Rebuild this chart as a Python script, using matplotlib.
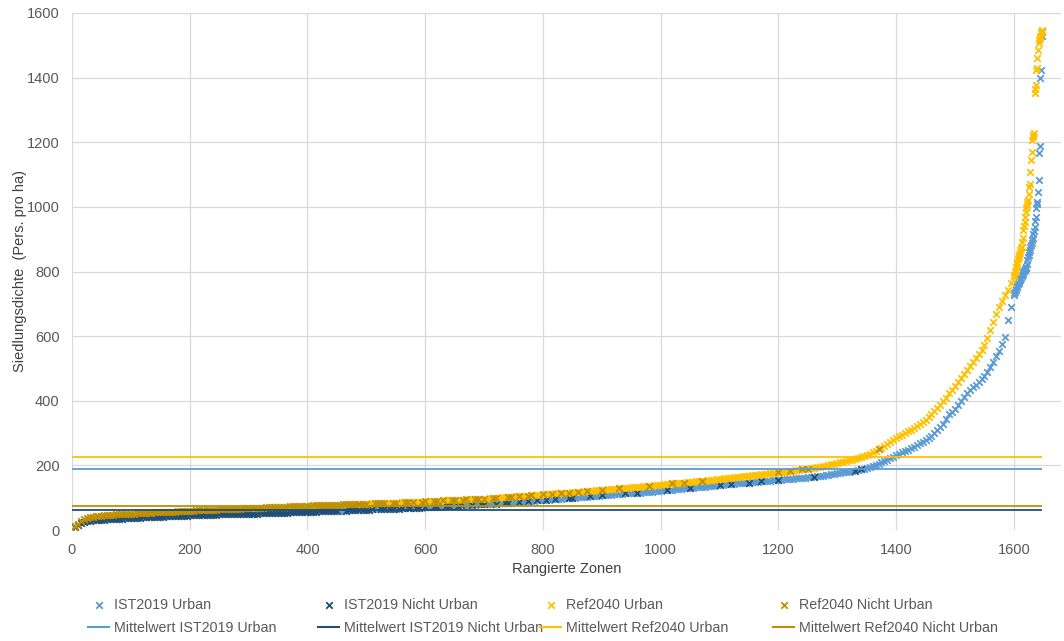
import numpy as np
import matplotlib
matplotlib.use("Agg")
import matplotlib.pyplot as plt
from matplotlib.lines import Line2D

plt.rcParams['font.family'] = ['Liberation Sans', 'DejaVu Sans']

# ---------------- data ----------------
# Sorted settlement density per zone, every 5 ranks from 0 to 1600
ist_coarse = [0, 8, 15, 21, 25, 27, 29, 30, 31, 31, 32, 32, 33, 33, 34, 34, 35, 35, 36, 36,
              37, 37, 38, 38, 39, 39, 40, 40, 40, 40,
              41, 41, 42, 42, 43, 43, 43, 43, 44, 44,
              45, 45, 45, 45, 46, 46, 46, 46, 47, 47,
              48, 48, 48, 48, 49, 49, 49, 49, 50, 50,
              51, 51, 51, 51, 52, 52, 52, 52, 53, 53,
              54, 54, 54, 54, 55, 55, 55, 55, 56, 56,
              57, 57, 57, 57, 58, 58, 58, 58, 59, 59,
              60, 60, 60, 60, 61, 61, 61, 61, 62, 62,
              63, 63, 64, 64, 64, 64, 65, 65, 66, 66,
              66, 66, 67, 67, 68, 68, 68, 68, 69, 69,
              70, 70, 71, 71, 72, 72, 73, 73, 74, 74,
              75, 75, 76, 76, 77, 77, 78, 78, 79, 79,
              80, 80, 81, 81, 82, 83, 84, 84, 85, 85,
              86, 87, 88, 88, 89, 89, 90, 91, 92, 92,
              93, 93, 94, 95, 96, 96, 97, 98, 99, 99,
              100, 100, 101, 102, 103, 103, 104, 105, 106, 106,
              107, 107, 108, 109, 110, 110, 111, 112, 113, 113,
              114, 115, 116, 116, 117, 118, 119, 119, 120, 121,
              122, 123, 124, 124, 125, 126, 127, 128, 129, 129,
              130, 131, 132, 133, 134, 134, 135, 136, 137, 138,
              139, 140, 141, 141, 142, 143, 144, 145, 146, 146,
              147, 148, 149, 150, 151, 151, 152, 153, 154, 155,
              156, 156, 157, 157, 158, 159, 160, 160, 161, 162,
              163, 164, 165, 166, 167, 168, 170, 171, 172, 173,
              175, 176, 178, 179, 181, 182, 184, 186, 188, 190,
              192, 195, 198, 201, 205, 209, 213, 217, 222, 227,
              232, 236, 240, 244, 249, 253, 258, 263, 268, 273,
              279, 285, 292, 300, 308, 318, 328, 343, 358, 366,
              375, 386, 398, 411, 425, 433, 442, 450, 458, 468,
              478, 490, 505, 520, 538, 555, 575, 598, 650, 690, 728]
# ranks 1601.. (every single zone)
ist_dense = [733, 738, 742, 747, 752, 756, 760, 765, 770, 774,
             777, 781, 785, 789, 793, 797, 801, 805, 809, 812,
             815, 822, 836, 845, 852, 860, 867, 876, 882, 889,
             898, 905, 915, 925, 938, 955, 970, 996, 1008, 1016,
             1045, 1083, 1166, 1187, 1398, 1423, 1530, 1541]

ref_coarse = [2, 11, 20, 27, 33, 36, 39, 41, 42, 43, 44, 45, 46, 46, 47, 48, 49, 49, 50, 50,
              51, 51, 52, 52, 53, 53, 54, 54, 55, 55,
              56, 56, 56, 56, 57, 57, 58, 58, 59, 59,
              60, 60, 61, 61, 62, 62, 62, 62, 63, 63,
              64, 64, 65, 65, 66, 66, 66, 66, 67, 67,
              68, 68, 69, 69, 69, 69, 70, 70, 71, 71,
              71, 71, 72, 72, 73, 73, 73, 73, 74, 74,
              75, 75, 76, 76, 76, 76, 77, 77, 78, 78,
              78, 78, 79, 79, 80, 80, 80, 80, 81, 81,
              82, 82, 83, 83, 83, 83, 84, 84, 85, 85,
              85, 85, 86, 86, 87, 87, 87, 87, 88, 88,
              89, 89, 90, 90, 91, 91, 92, 92, 92, 92,
              93, 93, 94, 94, 95, 95, 95, 95, 96, 96,
              97, 97, 98, 98, 99, 100, 101, 101, 102, 102,
              103, 104, 105, 105, 106, 106, 107, 108, 109, 109,
              110, 110, 111, 112, 113, 113, 114, 115, 116, 116,
              117, 117, 118, 119, 120, 120, 121, 122, 123, 123,
              124, 125, 126, 126, 127, 128, 129, 130, 131, 131,
              132, 133, 134, 134, 135, 136, 137, 137, 138, 139,
              140, 141, 142, 143, 144, 144, 145, 146, 147, 148,
              149, 150, 151, 152, 153, 153, 154, 155, 156, 157,
              158, 159, 160, 161, 162, 163, 164, 165, 166, 167,
              168, 169, 170, 171, 172, 173, 174, 175, 176, 177,
              178, 179, 180, 181, 183, 184, 185, 186, 188, 189,
              190, 191, 193, 194, 196, 197, 199, 201, 203, 205,
              207, 209, 211, 213, 216, 218, 221, 223, 226, 229,
              232, 236, 240, 245, 250, 255, 261, 267, 273, 279,
              285, 290, 295, 300, 306, 311, 317, 322, 328, 334,
              340, 349, 358, 368, 378, 388, 398, 410, 423, 434,
              445, 457, 470, 482, 495, 507, 520, 532, 545, 558,
              572, 595, 620, 645, 668, 691, 710, 728, 743, 763, 782]
ref_dense = [790, 798, 806, 815, 822, 830, 838, 845, 851, 858,
             866, 872, 876, 890, 905, 929, 941, 953, 970, 985,
             996, 1005, 1015, 1021, 1040, 1062, 1070, 1108, 1145, 1171,
             1207, 1215, 1222, 1228, 1352, 1365, 1377, 1423, 1430, 1460,
             1486, 1507, 1515, 1522, 1530, 1538, 1544, 1548]

# Ranks that are "Nicht Urban" zones
ist_nonurban = list(range(0, 455, 5)) + [
    465, 470, 475, 480, 485, 495, 500, 505, 510, 525, 530, 540, 545, 555, 560,
    570, 575, 585, 590, 600, 615, 620, 635, 640, 655, 660, 680, 695, 700, 720,
    735, 740, 760, 775, 790, 805, 820, 845, 850, 880, 900, 940, 960, 1010,
    1050, 1100, 1120, 1150, 1170, 1200, 1260, 1330, 1340]
ref_nonurban = list(range(0, 505, 5)) + [
    515, 520, 525, 530, 545, 550, 565, 570, 580, 595, 600, 615, 620, 630, 645,
    650, 665, 670, 685, 690, 700, 715, 720, 740, 745, 760, 775, 780, 800, 815,
    830, 845, 860, 875, 900, 930, 980, 1020, 1040, 1070, 1200, 1220, 1240,
    1250, 1370]

# Mean values
mean_ist_urban = 190
mean_ist_nonurban = 62
mean_ref_urban = 225
mean_ref_nonurban = 73

series_labels = ["IST2019 Urban", "IST2019 Nicht Urban", "Ref2040 Urban", "Ref2040 Nicht Urban"]
mean_labels = ["Mittelwert IST2019 Urban", "Mittelwert IST2019 Nicht Urban",
               "Mittelwert Ref2040 Urban", "Mittelwert Ref2040 Nicht Urban"]

c_ist_u = "#5B9BD5"
c_ist_n = "#1F4E79"
c_ref_u = "#FFC000"
c_ref_n = "#BF9000"


def build(coarse, dense):
    r = np.concatenate([np.arange(len(coarse)) * 5,
                        1601 + np.arange(len(dense))])
    v = np.concatenate([coarse, dense]).astype(float)
    return r, v


ist_r, ist_v = build(ist_coarse, ist_dense)
ref_r, ref_v = build(ref_coarse, ref_dense)
ist_n_mask = np.isin(ist_r, ist_nonurban)
ref_n_mask = np.isin(ref_r, ref_nonurban)

# ---------------- figure ----------------
fig = plt.figure(figsize=(10.64, 6.41), dpi=100)
ax = fig.add_axes([72 / 1064, 111 / 641, (1061 - 72) / 1064, (628 - 111) / 641])

grid_c = "#D9D9D9"
ax.set_xlim(0, 1680)
ax.set_ylim(0, 1600)
ax.set_xticks(np.arange(0, 1601, 200))
ax.set_yticks(np.arange(0, 1601, 200))
ax.grid(True, color=grid_c, lw=0.9)
ax.set_axisbelow(True)
for s in ax.spines.values():
    s.set_visible(False)
ax.tick_params(length=0, labelsize=10.5, colors="#595959", pad=9)

ms = 22
lw = 1.3
h1 = ax.scatter(ist_r[~ist_n_mask], ist_v[~ist_n_mask], marker='x', s=ms, linewidths=lw, color=c_ist_u, zorder=3)
h2 = ax.scatter(ist_r[ist_n_mask], ist_v[ist_n_mask], marker='x', s=ms, linewidths=lw, color=c_ist_n, zorder=4)
h3 = ax.scatter(ref_r[~ref_n_mask], ref_v[~ref_n_mask], marker='x', s=ms, linewidths=lw, color=c_ref_u, zorder=5)
h4 = ax.scatter(ref_r[ref_n_mask], ref_v[ref_n_mask], marker='x', s=ms, linewidths=lw, color=c_ref_n, zorder=6)

xmax = max(ist_r.max(), ref_r.max())
ax.hlines(mean_ist_urban, 0, xmax, color=c_ist_u, lw=1.3, zorder=7)
ax.hlines(mean_ist_nonurban, 0, xmax, color=c_ist_n, lw=1.3, zorder=7)
ax.hlines(mean_ref_urban, 0, xmax, color=c_ref_u, lw=1.3, zorder=7)
ax.hlines(mean_ref_nonurban, 0, xmax, color=c_ref_n, lw=1.3, zorder=7)

ax.set_xlabel("Rangierte Zonen", fontsize=10.5, color="#404040", labelpad=4)
ax.set_ylabel("Siedlungsdichte  (Pers. pro ha)", fontsize=10.5, color="#404040", labelpad=0)

mean_handles = [Line2D([], [], color=c, lw=1.5) for c in (c_ist_u, c_ist_n, c_ref_u, c_ref_n)]
scatter_handles = [h1, h2, h3, h4]
col_x = [88, 318, 540, 773]
for i in range(4):
    leg = fig.legend([scatter_handles[i], mean_handles[i]], [series_labels[i], mean_labels[i]],
                     loc="upper left", bbox_to_anchor=(col_x[i] / 1064, 1 - 598 / 641),
                     frameon=False, fontsize=10.3, handlelength=1.5, handletextpad=0.3,
                     labelspacing=0.62, scatterpoints=1, borderaxespad=0, borderpad=0)
    for t in leg.get_texts():
        t.set_color("#595959")

fig.savefig("out.png", dpi=100, facecolor="white")
